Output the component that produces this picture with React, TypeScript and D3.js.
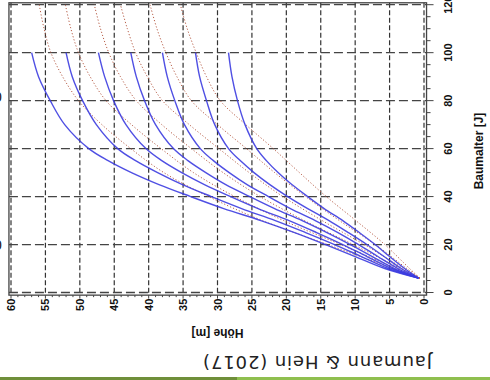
import React from "react";
import * as d3 from "d3";

// Ages (Baumalter) at which the site-index curves were read
const AGE_BLUE = [6, 10, 15, 20, 25, 30, 35, 40, 45, 50, 55, 60, 70, 80, 90, 100];
const BLUE_1 = [0.8, 5.7, 10.0, 14.3, 18.8, 23.7, 29.1, 33.9, 38.5, 42.5, 45.9, 48.7, 52.2, 54.3, 56.0, 57.0];
const BLUE_2 = [0.8, 5.2, 9.1, 13.0, 17.2, 21.6, 26.5, 30.9, 35.1, 38.7, 41.9, 44.5, 47.6, 49.6, 51.1, 52.0];
const BLUE_3 = [0.8, 4.7, 8.3, 11.8, 15.6, 19.6, 24.1, 28.1, 31.9, 35.2, 38.1, 40.4, 43.3, 45.1, 46.4, 47.3];
const BLUE_4 = [0.8, 4.3, 7.5, 10.7, 14.1, 17.7, 21.7, 25.3, 28.8, 31.7, 34.3, 36.4, 39.0, 40.6, 41.8, 42.6];
const BLUE_5 = [0.8, 3.8, 6.7, 9.5, 12.5, 15.8, 19.4, 22.6, 25.7, 28.3, 30.6, 32.5, 34.8, 36.2, 37.3, 38.0];
const BLUE_6 = [0.8, 3.3, 5.8, 8.3, 11.0, 13.8, 16.9, 19.8, 22.4, 24.7, 26.7, 28.4, 30.4, 31.6, 32.6, 33.2];
const BLUE_7 = [0.8, 2.8, 5.0, 7.1, 9.4, 11.8, 14.5, 16.9, 19.2, 21.2, 22.9, 24.3, 26.0, 27.1, 27.9, 28.4];
const BLUE_SERIES = [BLUE_1, BLUE_2, BLUE_3, BLUE_4, BLUE_5, BLUE_6, BLUE_7];

// Dotted reference curves, to age 120
const AGE_DOT = [6, 10, 20, 30, 40, 50, 60, 70, 80, 90, 100, 110, 120];
const DOT_1 = [0.6, 4.5, 14.0, 23.5, 31.3, 37.8, 42.6, 46.8, 50.2, 52.5, 54.2, 55.2, 55.9];
const DOT_2 = [0.6, 4.0, 12.1, 20.4, 27.5, 33.5, 38.2, 42.5, 46.2, 48.5, 50.2, 51.3, 52.1];
const DOT_3 = [0.6, 3.4, 10.3, 17.4, 23.8, 29.2, 33.8, 38.1, 41.8, 44.1, 45.8, 47.0, 47.9];
const DOT_4 = [0.6, 3.0, 8.7, 14.8, 20.5, 25.4, 29.8, 34.1, 38.0, 40.2, 41.9, 43.1, 44.1];
const DOT_5 = [0.6, 2.5, 7.1, 12.3, 17.2, 21.7, 25.8, 30.0, 33.8, 35.9, 37.5, 38.8, 39.8];
const DOT_6 = [0.6, 2.1, 5.7, 9.9, 14.2, 18.1, 21.9, 25.9, 29.6, 31.6, 33.1, 34.4, 35.4];
const DOT_SERIES = [DOT_1, DOT_2, DOT_3, DOT_4, DOT_5, DOT_6];

const HEIGHT_TICKS = [0, 5, 10, 15, 20, 25, 30, 35, 40, 45, 50, 55, 60];
const AGE_TICKS = [0, 20, 40, 60, 80, 100, 120];
const HEIGHT_LABEL = "Höhe  [m]";
const AGE_LABEL = "Baumalter  [J]";
const CAPTION = "Jaumann & Hein (2017)";

export default function App() {
  const W = 490;
  const H = 380;
  // rotated chart: height runs right→left, age runs bottom→top
  const x = d3.scaleLinear().domain([0, 60]).range([424, 11]);
  const y = d3.scaleLinear().domain([0, 120]).range([292.5, 4.7]);

  const boxL = x(60.3), boxR = x(-0.37), boxT = y(120.8), boxB = y(-1.1);

  const line = (ages: number[]) =>
    d3
      .line<number>()
      .x((d) => x(d))
      .y((_, i) => y(ages[i]))
      .curve(d3.curveCatmullRom.alpha(0.5));

  const minorH = d3.range(0, 61, 1);
  const minorA = d3.range(0, 121, 5);
  const font = "Liberation Sans, Arial, sans-serif";

  return (
    <svg
      width={W}
      height={H}
      style={{ position: "absolute", left: 0, top: 0, background: "#fff" }}
    >
      <rect x={0} y={0} width={W} height={H} fill="#fff" />
      {/* grid */}
      {HEIGHT_TICKS.map((t) => (
        <line
          key={"gv" + t}
          x1={x(t)}
          x2={x(t)}
          y1={boxT}
          y2={boxB}
          stroke="#333"
          strokeWidth={1.2}
          strokeDasharray="5,2.5"
        />
      ))}
      {AGE_TICKS.map((t) => (
        <line
          key={"gh" + t}
          x1={boxL}
          x2={boxR}
          y1={y(t)}
          y2={y(t)}
          stroke="#444"
          strokeWidth={1.3}
          strokeDasharray="9,4"
        />
      ))}
      {/* dotted curves */}
      {DOT_SERIES.map((s, i) => (
        <path
          key={"d" + i}
          d={line(AGE_DOT)(s) || ""}
          fill="none"
          stroke="#b8604a"
          strokeWidth={1}
          strokeDasharray="1.2,2"
        />
      ))}
      {/* blue curves */}
      {BLUE_SERIES.map((s, i) => (
        <path
          key={"b" + i}
          d={line(AGE_BLUE)(s) || ""}
          fill="none"
          stroke="#3c3ce0"
          strokeWidth={1.4}
          strokeOpacity={0.9}
        />
      ))}
      {/* box */}
      <rect
        x={boxL}
        y={boxT}
        width={boxR - boxL}
        height={boxB - boxT}
        fill="none"
        stroke="#444"
        strokeWidth={1.3}
      />
      {/* height axis ticks (bottom) */}
      {minorH.map((t) => (
        <line
          key={"th" + t}
          x1={x(t)}
          x2={x(t)}
          y1={boxB}
          y2={boxB + (t % 5 === 0 ? 3.5 : 2)}
          stroke="#444"
          strokeWidth={1}
        />
      ))}
      {HEIGHT_TICKS.map((t) => (
        <text
          key={"lh" + t}
          transform={`translate(${x(t)},${boxB + 3.5}) rotate(-90)`}
          textAnchor="end"
          dominantBaseline="central"
          fontFamily={font}
          fontWeight="bold"
          fontSize={11}
          fill="#111"
        >
          {t}
        </text>
      ))}
      {/* age axis ticks (right) */}
      {minorA.map((t) => (
        <line
          key={"ta" + t}
          x1={boxR}
          x2={boxR + (t % 20 === 0 ? 7 : 4)}
          y1={y(t)}
          y2={y(t)}
          stroke="#444"
          strokeWidth={1}
        />
      ))}
      {AGE_TICKS.map((t) => (
        <text
          key={"la" + t}
          transform={`translate(448,${y(t)}) rotate(-90)`}
          textAnchor="middle"
          dominantBaseline="central"
          fontFamily={font}
          fontWeight="bold"
          fontSize={11}
          fill="#111"
        >
          {t}
        </text>
      ))}
      {/* axis titles */}
      <text
        transform={`translate(479,${y(59)}) rotate(-90)`}
        textAnchor="middle"
        dominantBaseline="central"
        fontFamily={font}
        fontWeight="bold"
        fontSize={12}
        fill="#111"
      >
        {AGE_LABEL}
      </text>
      <text
        transform={`translate(${x(30)},333) rotate(180)`}
        textAnchor="middle"
        dominantBaseline="central"
        fontFamily={font}
        fontWeight="bold"
        fontSize={12}
        fill="#111"
      >
        {HEIGHT_LABEL}
      </text>
      <text
        transform={`translate(317.5,362) rotate(180)`}
        textAnchor="middle"
        dominantBaseline="central"
        fontFamily="DejaVu Sans, sans-serif"
        fontSize={18}
        textLength={229}
        fill="#222"
      >
        {CAPTION}
      </text>
      {/* cut-off fragments at left edge */}
      <text x={-6} y={97} dominantBaseline="central" fontFamily={font} fontSize={14} fill="#111">0</text>
      <text x={-6} y={245} dominantBaseline="central" fontFamily={font} fontSize={14} fill="#111">0</text>
      {/* footer bar */}
      <rect x={0} y={377} width={237} height={3} fill="#6f8f3a" />
      <rect x={237} y={377} width={253} height={3} fill="#8fbf4f" />
    </svg>
  );
}
